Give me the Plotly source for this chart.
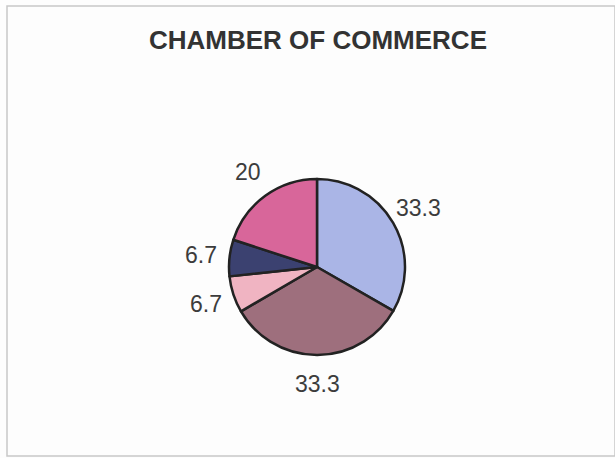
import math
import plotly.graph_objects as go

# Membership split for the chamber of commerce (percent)
categories = ["A", "B", "C", "D", "E"]
values = [33.3, 33.3, 6.7, 6.7, 20]
labels_text = ["33.3", "33.3", "6.7", "6.7", "20"]
colors = ["#aab5e6", "#9e6f7d", "#f0b4c2", "#3b4170", "#d8669a"]

W, H = 615, 458
# pie placement in pixels
CX, CY, R = 317, 267, 88
LABEL_DIST = R + 29

fig = go.Figure(
    go.Pie(
        labels=categories,
        values=values,
        textinfo="none",
        sort=False,
        direction="clockwise",
        rotation=0,
        marker=dict(colors=colors, line=dict(color="#222222", width=2.5)),
        showlegend=False,
        hoverinfo="label+value",
        domain=dict(x=[(CX - R) / W, (CX + R) / W], y=[1 - (CY + R) / H, 1 - (CY - R) / H]),
    )
)

# value labels placed outside each slice, at the slice's mid-angle
total = sum(values)
cum = 0.0
for v, t in zip(values, labels_text):
    mid = (cum + v / 2) / total * 2 * math.pi
    cum += v
    px = CX + LABEL_DIST * math.sin(mid)
    py = CY - LABEL_DIST * math.cos(mid)
    fig.add_annotation(
        text=t, x=px / W, y=1 - py / H, xref="paper", yref="paper",
        showarrow=False, xanchor="center", yanchor="middle",
        font=dict(family="Liberation Sans, Arial", size=23, color="#3c3c3c"),
    )

fig.add_annotation(
    text="<b>CHAMBER OF COMMERCE</b>",
    x=318 / W, y=1 - 40 / H, xref="paper", yref="paper",
    showarrow=False, xanchor="center", yanchor="middle",
    font=dict(family="Liberation Sans, Arial", size=26, color="#333333"),
)

# Outer frame of the chart area
fig.add_shape(
    type="rect", xref="paper", yref="paper",
    x0=7 / W, x1=1, y0=1 - 456 / H, y1=1 - 6 / H,
    line=dict(color="#c8c8c8", width=1.5),
)

fig.update_layout(
    width=W, height=H,
    margin=dict(l=0, r=0, t=0, b=0),
    paper_bgcolor="#fdfdfd",
    plot_bgcolor="#fdfdfd",
)

fig.write_html("out.html")
